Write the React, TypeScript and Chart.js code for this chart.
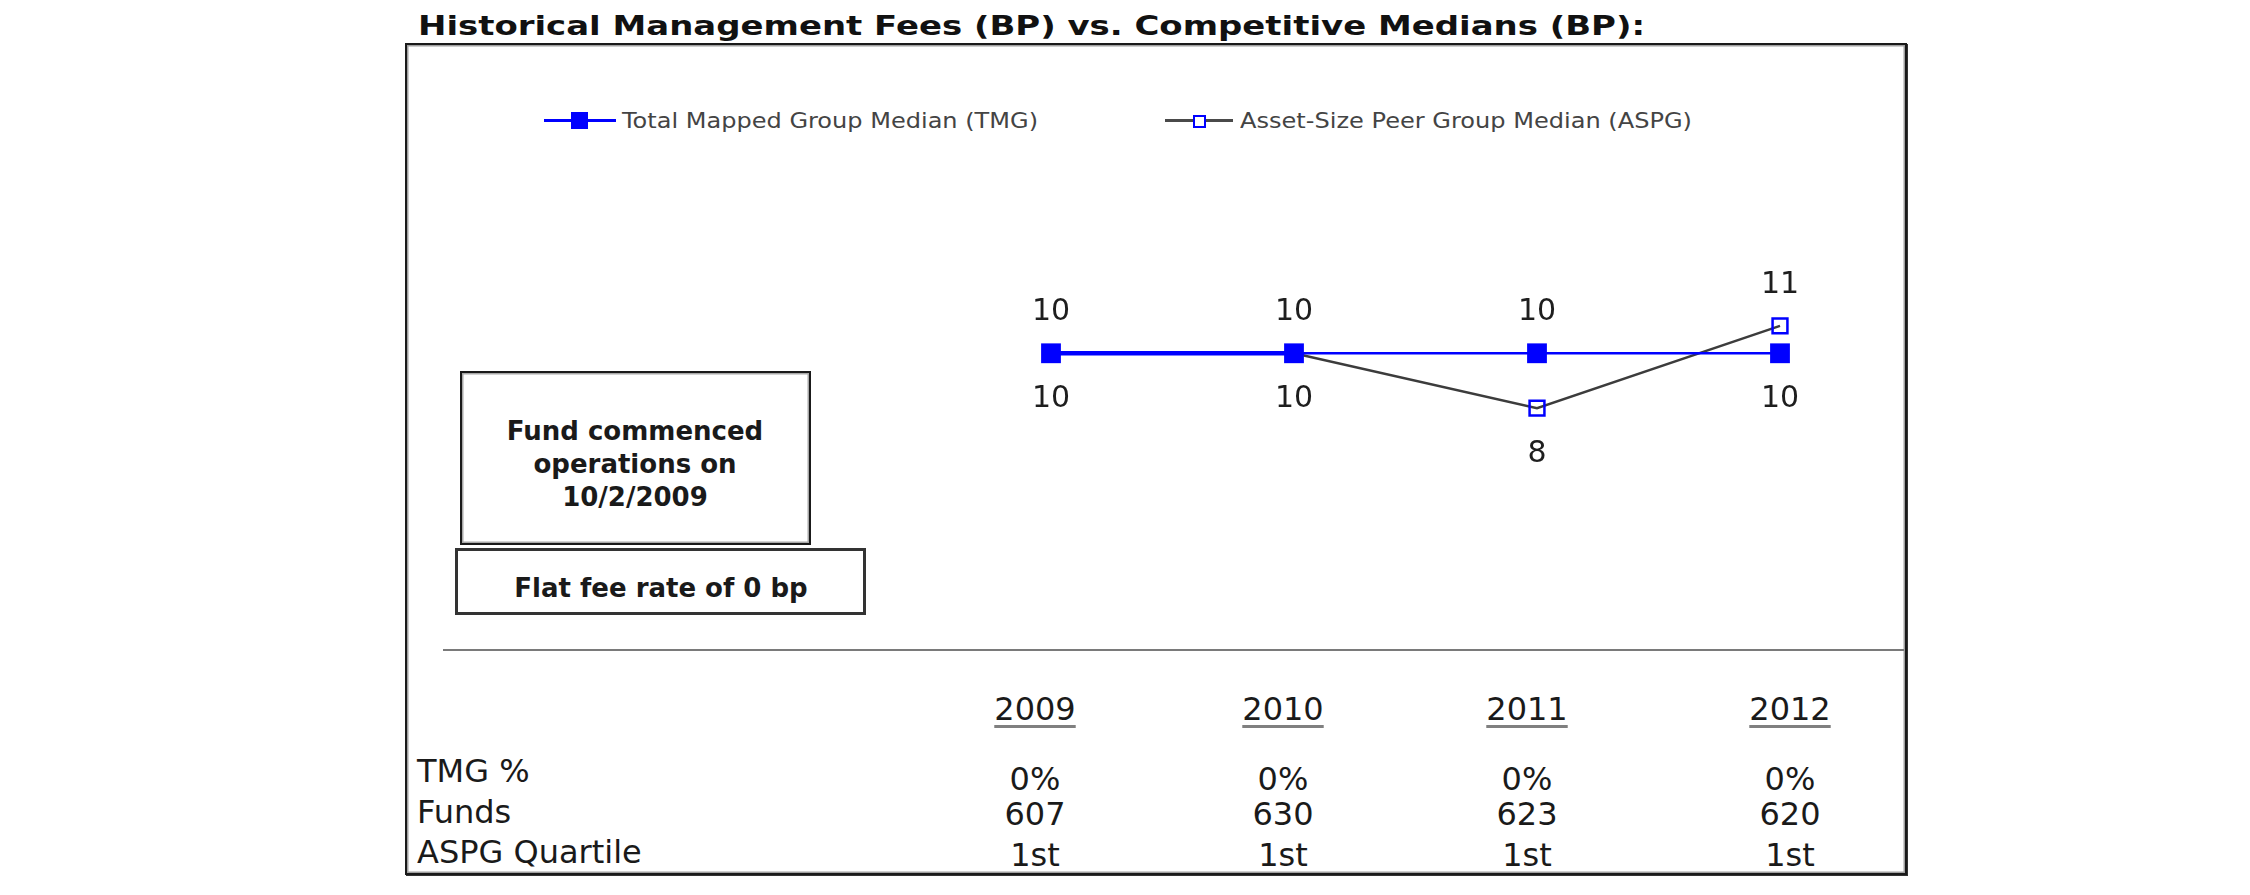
import React, { useEffect, useRef } from 'react';
import { Chart, registerables } from 'chart.js';

Chart.register(...registerables);

// ---------------- data ----------------
const years = ['2009', '2010', '2011', '2012'];
const tmgMedian = [10, 10, 10, 10];
const aspgMedian = [10, 10, 8, 11];
const tmgPct = ['0%', '0%', '0%', '0%'];
const fundCounts = ['607', '630', '623', '620'];
const aspgQuartile = ['1st', '1st', '1st', '1st'];
const rowLabels = ['TMG %', 'Funds', 'ASPG Quartile'];
const seriesNames = ['Total Mapped Group Median (TMG)', 'Asset-Size Peer Group Median (ASPG)'];
const titleText = 'Historical Management Fees (BP) vs. Competitive Medians (BP):';
const noteLines = ['Fund commenced', 'operations on', '10/2/2009'];
const feeNote = 'Flat fee rate of 0 bp';

// ---------------- layout ----------------
const FONT = '"DejaVu Sans", Verdana, sans-serif';
const colCenters = [1035, 1283, 1527, 1790];
const labelRowY = [770, 811, 851];
const valueRowY = [778, 813, 854];

let measureCtx: CanvasRenderingContext2D | null = null;
function measure(text: string, font: string): number {
  if (!measureCtx) measureCtx = document.createElement('canvas').getContext('2d');
  measureCtx!.font = font;
  return measureCtx!.measureText(text).width;
}

type TxtProps = {
  text: string;
  x: number;
  cy: number;
  size: number;
  bold?: boolean;
  color?: string;
  width?: number;
  align?: 'left' | 'center';
  underline?: boolean;
};

function Txt({ text, x, cy, size, bold, color = '#1a1a1a', width, align = 'left', underline }: TxtProps) {
  const font = `${bold ? 'bold' : 'normal'} ${size}px ${FONT}`;
  const natural = measure(text, font);
  const sx = width ? width / natural : 1;
  const w = natural * sx;
  const left = align === 'center' ? x - w / 2 : x;
  return (
    <div
      style={{
        position: 'absolute',
        left,
        top: cy - size * 0.48,
        font,
        lineHeight: `${size}px`,
        height: size,
        color,
        whiteSpace: 'nowrap',
        transform: `scaleX(${sx})`,
        transformOrigin: 'left top',
        textDecoration: underline ? 'underline' : 'none',
        textDecorationColor: '#808080',
        textDecorationThickness: underline ? '3px' : undefined,
        textUnderlineOffset: underline ? '5px' : undefined,
      }}
    >
      {text}
    </div>
  );
}

const pointLabelPlugin = {
  id: 'pointLabels',
  afterDatasetsDraw(chart: any) {
    const ctx = chart.ctx as CanvasRenderingContext2D;
    ctx.save();
    ctx.font = `30px ${FONT}`;
    ctx.fillStyle = '#1e1e1e';
    ctx.textAlign = 'center';
    ctx.textBaseline = 'middle';
    chart.data.datasets.forEach((ds: any, di: number) => {
      const meta = chart.getDatasetMeta(di);
      const other = chart.data.datasets[1 - di].data;
      meta.data.forEach((pt: any, i: number) => {
        const v = ds.data[i];
        const o = other[i];
        const above = di === 0 ? v >= o : v > o;
        ctx.fillText(String(v), pt.x, pt.y + (above ? -41 : 46));
      });
    });
    ctx.restore();
  },
};

function LineChart() {
  const ref = useRef<HTMLCanvasElement | null>(null);
  useEffect(() => {
    if (!ref.current) return;
    const chart = new Chart(ref.current, {
      type: 'line',
      data: {
        labels: years,
        datasets: [
          {
            label: seriesNames[0],
            data: tmgMedian,
            borderColor: '#0000ff',
            backgroundColor: '#0000ff',
            borderWidth: 2.5,
            pointStyle: 'rect',
            pointRadius: 14,
            pointHoverRadius: 14,
            pointBackgroundColor: '#0000ff',
            pointBorderColor: '#0000ff',
            pointBorderWidth: 0,
            tension: 0,
            clip: false,
            segment: {
              borderWidth: (c: any) => (c.p0DataIndex === 0 ? 4.5 : 2.5),
            },
          } as any,
          {
            label: seriesNames[1],
            data: aspgMedian,
            borderColor: '#3c3c3c',
            backgroundColor: 'rgba(0,0,0,0)',
            borderWidth: 2.5,
            pointStyle: 'rect',
            pointRadius: 10.5,
            pointHoverRadius: 10.5,
            pointBackgroundColor: 'rgba(0,0,0,0)',
            pointBorderColor: '#0000ff',
            pointBorderWidth: 2.5,
            tension: 0,
            clip: false,
          } as any,
        ],
      },
      options: {
        animation: false,
        responsive: false,
        maintainAspectRatio: false,
        layout: { padding: { left: 100, right: 100, top: 0, bottom: 0 } },
        plugins: {
          legend: { display: false },
          tooltip: { enabled: false },
          title: { display: false },
        },
        events: [],
        scales: {
          x: { type: 'category', display: false, offset: false },
          y: { display: false, min: 4, max: 15 },
        },
      },
      plugins: [pointLabelPlugin],
    });
    return () => chart.destroy();
  }, []);
  return (
    <canvas
      ref={ref}
      width={929}
      height={330}
      style={{ position: 'absolute', left: 951, top: 202, width: 929, height: 330 }}
    />
  );
}

export default function App() {
  const tableRows = [tmgPct, fundCounts, aspgQuartile];
  return (
    <div style={{ position: 'absolute', left: 0, top: 0, width: 2250, height: 895, background: '#fff', overflow: 'hidden' }}>
      <Txt text={titleText} x={418} cy={25} size={27} bold color="#111" width={1227} />

      {/* outer frame */}
      <div
        style={{
          position: 'absolute',
          left: 405,
          top: 43,
          width: 1502,
          height: 832,
          boxSizing: 'border-box',
          border: '2px solid #1a1a1a',
          boxShadow: 'inset 0 0 0 1.5px #a0a0a0, 1px 1px 0 #333',
        }}
      />

      {/* legend */}
      <div style={{ position: 'absolute', left: 544, top: 119, width: 72, height: 3, background: '#0000ff' }} />
      <div style={{ position: 'absolute', left: 571, top: 112, width: 17, height: 17, background: '#0000ff' }} />
      <Txt text={seriesNames[0]} x={622} cy={121} size={22} color="#444" width={416} />
      <div style={{ position: 'absolute', left: 1165, top: 119, width: 68, height: 3, background: '#4a4a4a' }} />
      <div
        style={{
          position: 'absolute',
          left: 1193,
          top: 115,
          width: 13,
          height: 13,
          boxSizing: 'border-box',
          border: '2px solid #0000ff',
          background: '#fff',
        }}
      />
      <Txt text={seriesNames[1]} x={1240} cy={121} size={22} color="#444" width={452} />

      <LineChart />

      {/* note boxes */}
      <div
        style={{
          position: 'absolute',
          left: 460,
          top: 371,
          width: 351,
          height: 174,
          boxSizing: 'border-box',
          border: '2px solid #1a1a1a',
          boxShadow: 'inset 0 0 0 1.5px #a8a8a8',
        }}
      />
      {noteLines.map((t, i) => (
        <Txt key={t} text={t} x={635} cy={430 + i * 33} size={26} bold color="#1a1a1a" align="center" />
      ))}
      <div
        style={{
          position: 'absolute',
          left: 455,
          top: 548,
          width: 411,
          height: 67,
          boxSizing: 'border-box',
          border: '3px solid #333',
        }}
      />
      <Txt text={feeNote} x={661} cy={587} size={26} bold color="#1a1a1a" align="center" />

      {/* separator */}
      <div style={{ position: 'absolute', left: 443, top: 649, width: 1461, height: 2, background: '#7a7a7a' }} />

      {/* table */}
      {years.map((y, i) => (
        <Txt key={y} text={y} x={colCenters[i]} cy={708.5} size={32} color="#1a1a1a" align="center" underline />
      ))}
      {rowLabels.map((l, r) => (
        <Txt key={l} text={l} x={417} cy={labelRowY[r]} size={32} color="#1a1a1a" />
      ))}
      {tableRows.map((row, r) =>
        row.map((v, i) => (
          <Txt key={`${r}-${i}`} text={v} x={colCenters[i]} cy={valueRowY[r]} size={32} color="#1a1a1a" align="center" />
        ))
      )}
    </div>
  );
}
